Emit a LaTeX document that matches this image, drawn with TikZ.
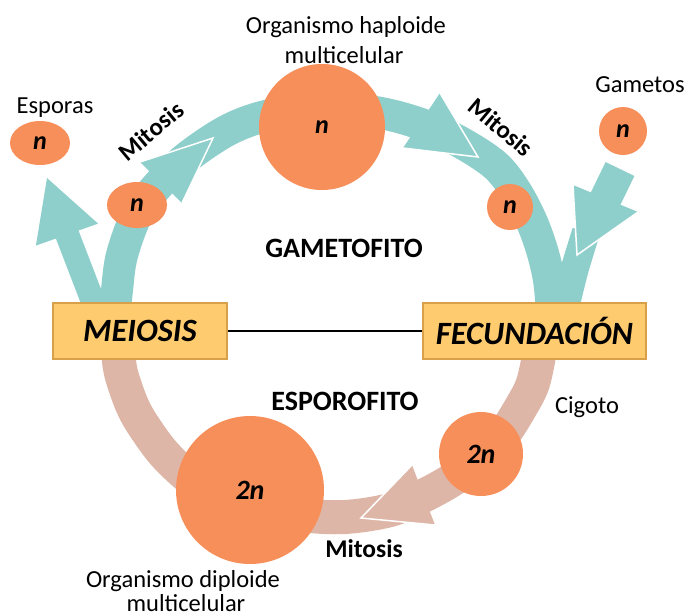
\documentclass[tikz,border=0pt]{standalone}
\usepackage{fontspec}
\setmainfont{Carlito}
\usetikzlibrary{shapes.geometric}
\definecolor{teal1}{HTML}{8ECFCC}
\definecolor{pink1}{HTML}{DDB6A7}
\definecolor{orng}{HTML}{F78F5B}
\definecolor{boxfill}{HTML}{FECB6F}
\definecolor{boxline}{HTML}{D9A04A}
\tikzset{
  tband/.style={draw=teal1, line width=32pt, line cap=butt},
  pband/.style={draw=pink1, line width=34pt, line cap=butt},
  thead/.style={fill=teal1},
  phead/.style={fill=pink1},
  whiteedge/.style={draw=white, line width=1.5pt, line join=miter},
  cell/.style={circle, fill=orng, inner sep=0pt, font=\bfseries\itshape\fontsize{26}{28}\selectfont},
  ecell/.style={ellipse, fill=orng, inner sep=0pt, font=\bfseries\itshape\fontsize{26}{28}\selectfont},
  stage/.style={draw=boxline, fill=boxfill, line width=1.5pt, minimum height=56pt, inner sep=0pt, font=\bfseries\itshape\fontsize{32.5}{36}\selectfont},
  lbl/.style={font=\fontsize{24.5}{28}\selectfont, anchor=base, inner sep=0pt},
  blbl/.style={font=\bfseries\fontsize{25.5}{28}\selectfont, anchor=base, inner sep=0pt},
  rlbl/.style={font=\bfseries\fontsize{25}{28}\selectfont, inner sep=0pt},
}
\begin{document}
\begin{tikzpicture}[x=1pt,y=-1pt]
\useasboundingbox (0,0) rectangle (688,614);
% teal band (gametophyte)
\draw[tband] plot[smooth, tension=0.55] coordinates {(115,312) (117,290) (122,255) (138,212) (161,182) (190,155) (230,129) (270,115) (322,109) (375,112) (421,124) (460,142) (495,165) (515,190) (531,220) (542,250) (549,280) (552,312)};
% pink band (sporophyte)
\draw[pband] plot[smooth, tension=0.55] coordinates {(118,350) (121,373) (132,405) (145,428) (167,457) (200,485) (250,506) (300,515) (345,517) (390,510) (423,496) (455,478) (481,457) (503,435) (521,407) (533,383) (540,350)};
% esporas arrow
\draw[teal1, line width=24pt] (97,312) -- (67,234);
\fill[thead] (35.9,245.6) -- (47,178) -- (98.1,223.6) -- cycle;
% gametos arrow
\draw[teal1, line width=28pt] plot[smooth] coordinates {(586,232) (575,268) (567,300) (565,312)};
\draw[teal1, line width=32pt] (620,169) -- (603,204);
\fill[thead] (573,185) -- (577,255) -- (638,212) -- cycle;
\draw[whiteedge] (573,185) -- (577,255) -- (638,212);
% arrowheads on the cycle
\fill[thead] (140,162) -- (213,138) -- (182,203) -- cycle;
\draw[whiteedge] (140,162) -- (213,138) -- (182,203);
\fill[thead] (440,93) -- (478,157) -- (403,148) -- cycle;
\draw[whiteedge] (440,93) -- (478,157) -- (403,148);
\fill[phead] (412,465) -- (361,518) -- (435,525) -- cycle;
\draw[whiteedge] (412,465) -- (361,518) -- (435,525);
% cells
\node[cell, minimum size=126pt] (hap) at (322,127) {\textit{n}};
\node[ecell, minimum width=60pt, minimum height=44pt] (esp) at (40,143) {\textit{n}};
\node[ecell, minimum width=60pt, minimum height=46pt] (nl) at (137,205) {\textit{n}};
\node[cell, minimum size=46pt] (nr) at (510,207) {\textit{n}};
\node[cell, minimum size=48pt] (gam) at (623,131) {\textit{n}};
\node[cell, minimum size=84pt, font=\bfseries\itshape\fontsize{28}{30}\selectfont] (cig) at (481,454) {2\textit{n}};
\node[cell, minimum size=148pt, font=\bfseries\itshape\fontsize{28}{30}\selectfont] (dip) at (250,490) {2\textit{n}};
% stages
\node[stage, minimum width=174pt] (meiosis) at (140,331) {MEIOSIS};
\node[stage, minimum width=223pt] (fec) at (534.5,331) {FECUNDACIÓN};
\draw[line width=1.5pt] (meiosis) -- (fec);
% labels
\node[lbl] (orgh1) at (346,33) {Organismo haploide};
\node[lbl] (orgh2) at (344,63) {multicelular};
\node[lbl] (esplbl) at (55,113) {Esporas};
\node[lbl] (gamlbl) at (640,92) {Gametos};
\node[lbl] (ciglbl) at (587,413) {Cigoto};
\node[lbl] (orgd1) at (183,587) {Organismo diploide};
\node[lbl] (orgd2) at (186,611) {multicelular};
\node[blbl, font=\bfseries\fontsize{28}{30}\selectfont] (gtf) at (344,257) {GAMETOFITO};
\node[blbl, font=\bfseries\fontsize{28}{30}\selectfont] (spf) at (345,410) {ESPOROFITO};
\node[blbl] (mit3) at (364,557) {Mitosis};
\node[rlbl, rotate=40] (mit1) at (151,131) {Mitosis};
\node[rlbl, rotate=-40] (mit2) at (501,127) {Mitosis};
\end{tikzpicture}
\end{document}
